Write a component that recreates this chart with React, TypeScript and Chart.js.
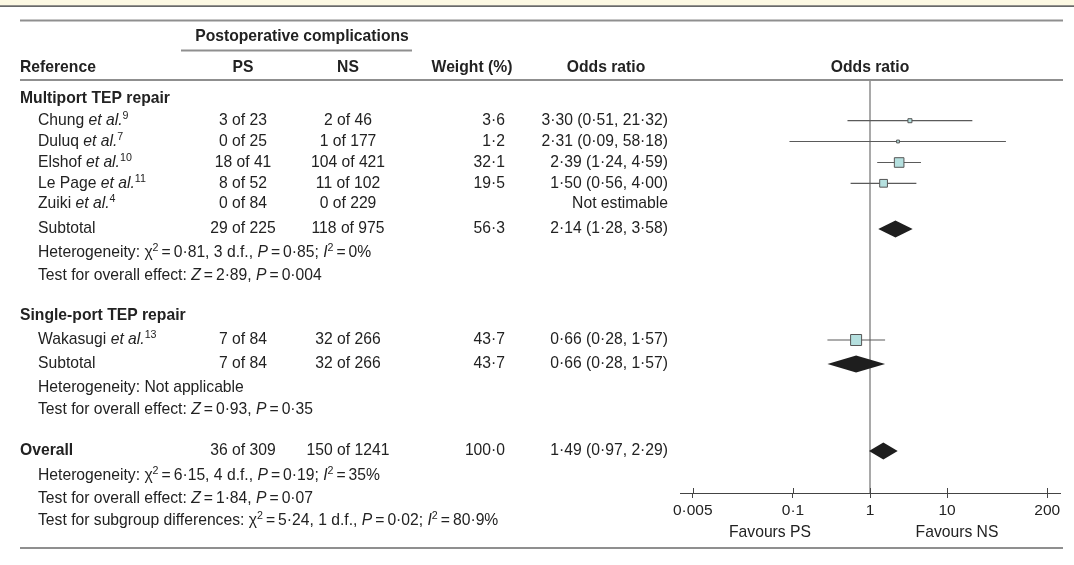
import React, { useEffect, useRef } from 'react';
import { Chart, registerables } from 'chart.js';

Chart.register(...registerables);

const W = 1074;
const H = 565;
const FONT = '"Liberation Sans", Arial, sans-serif';
const FS = 15.7;

// ---------- data ----------
const studyNames = ['Chung', 'Duluq', 'Elshof', 'Le Page', 'Zuiki', 'Wakasugi'];
const studyRefs = ['9', '7', '10', '11', '4', '13'];
const psEvents = [3, 0, 18, 8, 0, 7];
const psTotals = [23, 25, 41, 52, 84, 84];
const nsEvents = [2, 1, 104, 11, 0, 32];
const nsTotals = [46, 177, 421, 102, 229, 266];
const weights: (number | null)[] = [3.6, 1.2, 32.1, 19.5, null, 43.7];
const oddsRatios: (number | null)[] = [3.3, 2.31, 2.39, 1.5, null, 0.66];
const ciLower: (number | null)[] = [0.51, 0.09, 1.24, 0.56, null, 0.28];
const ciUpper: (number | null)[] = [21.32, 58.18, 4.59, 4.0, null, 1.57];

const groupNames = ['Multiport TEP repair', 'Single-port TEP repair'];
const subPsEvents = [29, 7];
const subPsTotals = [225, 84];
const subNsEvents = [118, 32];
const subNsTotals = [975, 266];
const subWeights = [56.3, 43.7];
const subOR = [2.14, 0.66];
const subLower = [1.28, 0.28];
const subUpper = [3.58, 1.57];

const overallPs = [36, 309];
const overallNs = [150, 1241];
const overallWeight = 100.0;
const overallOR = [1.49, 0.97, 2.29];

const tickValues = [0.005, 0.1, 1, 10, 200];

// ---------- layout (pixel rows) ----------
const studyRowY = [120.7, 141.5, 162.5, 183.3, 203.5, 340];
const groupHeadY = [99, 316];
const subtotalY = [229, 364];
const hetY = [253, 387.5];
const testY = [276, 410];
const overallY = 451;
const overallHetY = 475.5;
const overallTestY = 498.5;
const subgroupTestY = 521;

type Seg = { t: string; i?: boolean; b?: boolean; sup?: boolean; gap?: number };

const dot = (v: number, d: number) => v.toFixed(d).replace('.', '·');

function drawRich(ctx: CanvasRenderingContext2D, segs: Seg[], x: number, y: number, align: 'left' | 'right' | 'center', size = FS) {
  const fontFor = (s: Seg) => `${s.i ? 'italic ' : ''}${s.b ? 'bold ' : ''}${s.sup ? size * 0.68 : size}px ${FONT}`;
  let total = 0;
  for (const s of segs) {
    ctx.font = fontFor(s);
    total += ctx.measureText(s.t).width + 2 * (s.gap || 0);
  }
  let cx = align === 'left' ? x : align === 'right' ? x - total : x - total / 2;
  ctx.textAlign = 'left';
  ctx.textBaseline = 'middle';
  for (const s of segs) {
    ctx.font = fontFor(s);
    cx += s.gap || 0;
    ctx.fillText(s.t, cx, s.sup ? y - size * 0.3 : y);
    cx += ctx.measureText(s.t).width + (s.gap || 0);
  }
}

const txt = (t: string): Seg[] => [{ t }];
const bold = (t: string): Seg[] => [{ t, b: true }];
const EQ: Seg = { t: '=', gap: 3 };

function hetSegs(chi: number, df: number, p: number, i2: string): Seg[] {
  return [
    { t: 'Heterogeneity: χ' }, { t: '2', sup: true }, EQ, { t: dot(chi, 2) + ', ' + df + ' d.f., ' },
    { t: 'P', i: true }, EQ, { t: dot(p, 2) + '; ' }, { t: 'I', i: true }, { t: '2', sup: true }, EQ, { t: i2 + '%' },
  ];
}
function testSegs(z: number, p: string): Seg[] {
  return [{ t: 'Test for overall effect: ' }, { t: 'Z', i: true }, EQ, { t: dot(z, 2) + ', ' }, { t: 'P', i: true }, EQ, { t: p }];
}

const COL_REF = 20;
const COL_STUDY = 38;
const COL_PS = 243;
const COL_NS = 348;
const COL_W_HEAD = 472;
const COL_W = 505;
const COL_OR_HEAD = 606;
const COL_OR = 668;
const TEXT = '#222';

const forestPlugin = {
  id: 'forest',
  beforeDraw(chart: any) {
    const ctx = chart.ctx as CanvasRenderingContext2D;
    ctx.save();
    ctx.fillStyle = '#fdf9e3';
    ctx.fillRect(0, 0, W, 5.5);
    ctx.fillStyle = '#2a2a2a';
    ctx.fillRect(0, 5.5, W, 1.2);
    ctx.restore();
  },
  beforeDatasetsDraw(chart: any) {
    const ctx = chart.ctx as CanvasRenderingContext2D;
    const x = chart.scales.x;
    const a = chart.chartArea;
    const px = x.getPixelForValue(1);
    ctx.save();
    ctx.strokeStyle = '#8c8c8c';
    ctx.lineWidth = 1.5;
    ctx.beginPath();
    ctx.moveTo(px, a.top);
    ctx.lineTo(px, a.bottom);
    ctx.stroke();
    // upward halves of axis ticks
    ctx.strokeStyle = '#444';
    ctx.lineWidth = 1;
    for (const v of tickValues) {
      const tx = Math.round(x.getPixelForValue(v)) + 0.5;
      ctx.beginPath();
      ctx.moveTo(tx, a.bottom - 5);
      ctx.lineTo(tx, a.bottom);
      ctx.stroke();
    }
    ctx.restore();
  },
  afterDatasetsDraw(chart: any) {
    const ctx = chart.ctx as CanvasRenderingContext2D;
    const x = chart.scales.x;
    const y = chart.scales.y;
    const diamond = (or: number, lo: number, hi: number, row: number) => {
      const cy = y.getPixelForValue(row);
      ctx.beginPath();
      ctx.moveTo(x.getPixelForValue(lo), cy);
      ctx.lineTo(x.getPixelForValue(or), cy - 8.5);
      ctx.lineTo(x.getPixelForValue(hi), cy);
      ctx.lineTo(x.getPixelForValue(or), cy + 8.5);
      ctx.closePath();
      ctx.fill();
    };
    ctx.save();
    ctx.fillStyle = '#1e1e1e';
    for (let g = 0; g < 2; g++) diamond(subOR[g], subLower[g], subUpper[g], subtotalY[g]);
    diamond(overallOR[0], overallOR[1], overallOR[2], overallY);
    ctx.restore();
  },
  afterDraw(chart: any) {
    const ctx = chart.ctx as CanvasRenderingContext2D;
    const y = chart.scales.y;
    const Y = (v: number) => y.getPixelForValue(v);
    ctx.save();

    // rules
    ctx.fillStyle = '#8f8f8f';
    ctx.fillRect(20, 19.5, 1043, 2);
    ctx.fillRect(20, 79, 1043, 2);
    ctx.fillRect(20, 547, 1043, 2);
    ctx.fillRect(181, 49.5, 231, 2);
    ctx.fillStyle = TEXT;

    // headers
    drawRich(ctx, bold('Postoperative complications'), 302, Y(36.5), 'center');
    drawRich(ctx, bold('Reference'), COL_REF, Y(67.5), 'left');
    drawRich(ctx, bold('PS'), COL_PS, Y(67.5), 'center');
    drawRich(ctx, bold('NS'), COL_NS, Y(67.5), 'center');
    drawRich(ctx, bold('Weight (%)'), COL_W_HEAD, Y(67.5), 'center');
    drawRich(ctx, bold('Odds ratio'), COL_OR_HEAD, Y(67.5), 'center');
    drawRich(ctx, bold('Odds ratio'), chart.scales.x.getPixelForValue(1), Y(67.5), 'center');

    // groups
    for (let g = 0; g < 2; g++) {
      drawRich(ctx, bold(groupNames[g]), COL_REF, Y(groupHeadY[g]), 'left');
      const sy = Y(subtotalY[g]);
      drawRich(ctx, txt('Subtotal'), COL_STUDY, sy, 'left');
      drawRich(ctx, txt(`${subPsEvents[g]} of ${subPsTotals[g]}`), COL_PS, sy, 'center');
      drawRich(ctx, txt(`${subNsEvents[g]} of ${subNsTotals[g]}`), COL_NS, sy, 'center');
      drawRich(ctx, txt(dot(subWeights[g], 1)), COL_W, sy, 'right');
      drawRich(ctx, txt(`${dot(subOR[g], 2)} (${dot(subLower[g], 2)}, ${dot(subUpper[g], 2)})`), COL_OR, sy, 'right');
    }
    drawRich(ctx, hetSegs(0.81, 3, 0.85, '0'), COL_STUDY, Y(hetY[0]), 'left');
    drawRich(ctx, testSegs(2.89, '0·004'), COL_STUDY, Y(testY[0]), 'left');
    drawRich(ctx, txt('Heterogeneity: Not applicable'), COL_STUDY, Y(hetY[1]), 'left');
    drawRich(ctx, testSegs(0.93, '0·35'), COL_STUDY, Y(testY[1]), 'left');

    // studies
    for (let i = 0; i < studyNames.length; i++) {
      const sy = Y(studyRowY[i]);
      drawRich(ctx, [{ t: studyNames[i] + ' ' }, { t: 'et al.', i: true }, { t: studyRefs[i], sup: true }], COL_STUDY, sy, 'left');
      drawRich(ctx, txt(`${psEvents[i]} of ${psTotals[i]}`), COL_PS, sy, 'center');
      drawRich(ctx, txt(`${nsEvents[i]} of ${nsTotals[i]}`), COL_NS, sy, 'center');
      const w = weights[i];
      if (w != null) drawRich(ctx, txt(dot(w, 1)), COL_W, sy, 'right');
      const or = oddsRatios[i];
      if (or != null) {
        drawRich(ctx, txt(`${dot(or, 2)} (${dot(ciLower[i] as number, 2)}, ${dot(ciUpper[i] as number, 2)})`), COL_OR, sy, 'right');
      } else {
        drawRich(ctx, txt('Not estimable'), COL_OR, sy, 'right');
      }
    }

    // overall
    const oy = Y(overallY);
    drawRich(ctx, bold('Overall'), COL_REF, oy, 'left');
    drawRich(ctx, txt(`${overallPs[0]} of ${overallPs[1]}`), COL_PS, oy, 'center');
    drawRich(ctx, txt(`${overallNs[0]} of ${overallNs[1]}`), COL_NS, oy, 'center');
    drawRich(ctx, txt(dot(overallWeight, 1)), COL_W, oy, 'right');
    drawRich(ctx, txt(`${dot(overallOR[0], 2)} (${dot(overallOR[1], 2)}, ${dot(overallOR[2], 2)})`), COL_OR, oy, 'right');
    drawRich(ctx, hetSegs(6.15, 4, 0.19, '35'), COL_STUDY, Y(overallHetY), 'left');
    drawRich(ctx, testSegs(1.84, '0·07'), COL_STUDY, Y(overallTestY), 'left');
    drawRich(ctx, [
      { t: 'Test for subgroup differences: χ' }, { t: '2', sup: true }, EQ, { t: dot(5.24, 2) + ', 1 d.f., ' },
      { t: 'P', i: true }, EQ, { t: '0·02; ' }, { t: 'I', i: true }, { t: '2', sup: true }, EQ, { t: '80·9%' },
    ], COL_STUDY, Y(subgroupTestY), 'left');

    // favours labels
    drawRich(ctx, txt('Favours PS'), 770, 533, 'center');
    drawRich(ctx, txt('Favours NS'), 957, 533, 'center');
    ctx.restore();
  },
};

export default function App() {
  const ref = useRef<HTMLCanvasElement | null>(null);
  useEffect(() => {
    if (!ref.current) return;
    const idx = studyNames.map((_, i) => i).filter((i) => oddsRatios[i] != null);
    const ciSets = idx.map((i) => ({
      type: 'line' as const,
      data: [
        { x: ciLower[i] as number, y: studyRowY[i] },
        { x: ciUpper[i] as number, y: studyRowY[i] },
      ],
      showLine: true,
      borderColor: '#5a5a5a',
      borderWidth: 1.2,
      pointRadius: 0,
      fill: false,
      order: 2,
    }));
    const chart = new Chart(ref.current, {
      type: 'scatter',
      data: {
        datasets: [
          ...ciSets,
          {
            type: 'scatter' as const,
            data: idx.map((i) => ({ x: oddsRatios[i] as number, y: studyRowY[i] })),
            pointStyle: 'rect',
            pointRadius: idx.map((i) => (1.2 + 1.48 * Math.sqrt(weights[i] as number)) / 1.414),
            backgroundColor: '#b5e0df',
            borderColor: '#555',
            borderWidth: 1,
            order: 1,
          },
        ] as any,
      },
      options: {
        responsive: false,
        animation: false,
        devicePixelRatio: 1,
        layout: { padding: { left: 680, right: 14, top: 80, bottom: 37 } },
        plugins: { legend: { display: false }, tooltip: { enabled: false } },
        events: [],
        scales: {
          x: {
            type: 'logarithmic',
            min: 1 / 293,
            max: 293,
            afterBuildTicks: (s: any) => {
              s.ticks = tickValues.map((v) => ({ value: v }));
            },
            afterFit: (s: any) => {
              s.height = 35;
            },
            ticks: {
              callback: (v: any) => String(v).replace('.', '·'),
              font: { family: FONT, size: 15.5 },
              color: TEXT,
              padding: 3,
              maxRotation: 0,
              autoSkip: false,
            },
            grid: { drawOnChartArea: false, drawTicks: true, tickLength: 5, color: '#444', lineWidth: 1 },
            border: { display: true, color: '#444', width: 1 },
          },
          y: {
            type: 'linear',
            min: 80,
            max: 493,
            reverse: true,
            display: false,
          },
        },
      } as any,
      plugins: [forestPlugin],
    });
    return () => chart.destroy();
  }, []);
  return (
    <div style={{ position: 'fixed', left: 0, top: 0, width: W, height: H, background: '#fff' }}>
      <canvas ref={ref} width={W} height={H} style={{ display: 'block' }} />
    </div>
  );
}
